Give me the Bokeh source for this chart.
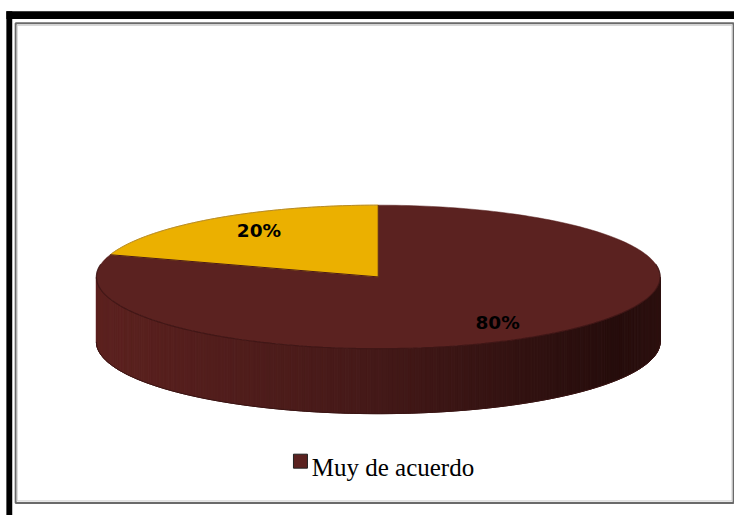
import numpy as np
from bokeh.plotting import figure
from bokeh.models import Range1d
from bokeh.core.properties import value
from bokeh.embed import file_html
from bokeh.resources import INLINE

# ---- data ----
categories = ["Muy de acuerdo", ""]
values = [80, 20]
labels = ["80%", "20%"]
slice_colors = ["#5B2220", "#EBB000"]
legend_categories = ["Muy de acuerdo"]

# ---- layout (reference pixel coords, mapped onto the figure) ----
W, H = 734, 515
CX, CY = 386, 285       # centre of top ellipse
RX, RY = 288, 74        # radii of top ellipse
DEPTH = 67              # thickness of pie

p = figure(width=W, height=H, output_backend="svg", toolbar_location=None,
           x_range=Range1d(0, 750), y_range=Range1d(531, 0),
           min_border=0, outline_line_color=None)
p.axis.visible = False
p.grid.visible = False
p.background_fill_color = "white"
p.border_fill_color = "white"

# outer black frame (top & left bars)
p.quad(left=[6, 6], right=[750, 12], top=[11, 11], bottom=[19, 531],
       fill_color="black", line_color=None)
# inner grey frame
p.quad(left=[15.5], right=[749], top=[23.5], bottom=[518],
       fill_color=None, line_color="#6a6a6a", line_width=2)
p.quad(left=[17], right=[747.5], top=[25.5], bottom=[516],
       fill_color=None, line_color="#c8c8c8", line_width=1)


def ept(theta_deg, dy=0.0):
    t = np.radians(theta_deg)
    return CX + RX * np.cos(t), CY - RY * np.sin(t) + dy


# ---- side wall (front half: 180..360 deg) with horizontal shading ----
n = 240
angs = np.linspace(180, 360, n + 1)
xs_side, ys_side, cols = [], [], []
left_c = np.array([92, 33, 31])
mid_c = np.array([68, 25, 24])
right_c = np.array([38, 13, 12])
for i in range(n):
    a1, a2 = angs[i], angs[i + 1]
    x1, y1 = ept(a1)
    x2, y2 = ept(a2)
    xs_side.append([x1, x2, x2, x1])
    ys_side.append([y1, y2, y2 + DEPTH, y1 + DEPTH])
    f = ((x1 + x2) / 2 - (CX - RX)) / (2 * RX)
    if f < 0.5:
        c = left_c + (mid_c - left_c) * (f / 0.5)
    elif f < 0.92:
        c = mid_c + (right_c - mid_c) * ((f - 0.5) / 0.42)
    else:
        c = right_c + (np.array([44, 16, 15]) - right_c) * ((f - 0.92) / 0.08)
    cols.append("#%02x%02x%02x" % tuple(int(round(v)) for v in c))
p.patches(xs_side, ys_side, fill_color=cols, line_color=cols, line_width=1)

# bottom rim line
bx, by = zip(*[ept(a, DEPTH) for a in np.linspace(180, 360, 200)])
p.line(list(bx), list(by), line_color="#3a1514", line_width=1)

# ---- top surface slices (counter-clockwise from 12 o'clock, last slice first) ----
total = float(sum(values))
spans = [v / total * 360.0 for v in values]
a0 = 90.0
ranges = {1: (a0, a0 + spans[1]), 0: (a0 + spans[1], a0 + 360.0)}
for idx in [0, 1]:
    s, e = ranges[idx]
    arc = np.linspace(s, e, 240)
    px = [CX] + [ept(a)[0] for a in arc]
    py = [CY] + [ept(a)[1] for a in arc]
    p.patch(px, py, fill_color=slice_colors[idx], line_color=slice_colors[idx],
            line_width=0.5)

# edge between top and side
tx, ty = zip(*[ept(a) for a in np.linspace(170, 370, 240)])
p.line(list(tx), list(ty), line_color="#3b1414", line_width=1.2, line_alpha=0.8)
# thin edge on yellow's back rim
yx, yy = zip(*[ept(a) for a in np.linspace(ranges[1][0], ranges[1][1], 80)])
p.line(list(yx), list(yy), line_color="#b58a2a", line_width=1)
# slice separation lines
for ang in [ranges[1][0], ranges[1][1]]:
    ex, ey = ept(ang)
    p.line([CX, ex], [CY, ey], line_color="#4a1a18", line_width=1)

# ---- labels ----
lx, ly = [], []
for idx in [0, 1]:
    s, e = ranges[idx]
    m = (s + e) / 2
    x = CX + 0.72 * RX * np.cos(np.radians(m))
    y = CY - 0.72 * RY * np.sin(np.radians(m))
    lx.append(x)
    ly.append(y + (4 if idx == 0 else -5))
p.text(lx, ly, text=labels, text_font=value("DejaVu Sans"), text_font_style="bold",
       text_font_size="18.5px", text_color="black", text_align="center",
       text_baseline="middle")

# ---- legend ----
p.scatter([306.5], [475], marker="square", size=14, fill_color=slice_colors[0],
          line_color="#222222", line_width=1)
p.text([318], [482], text=legend_categories, text_font=value("Liberation Serif"),
       text_font_size="25px", text_color="black", text_align="left",
       text_baseline="alphabetic")

open("out.html", "w").write(file_html(p, INLINE))
